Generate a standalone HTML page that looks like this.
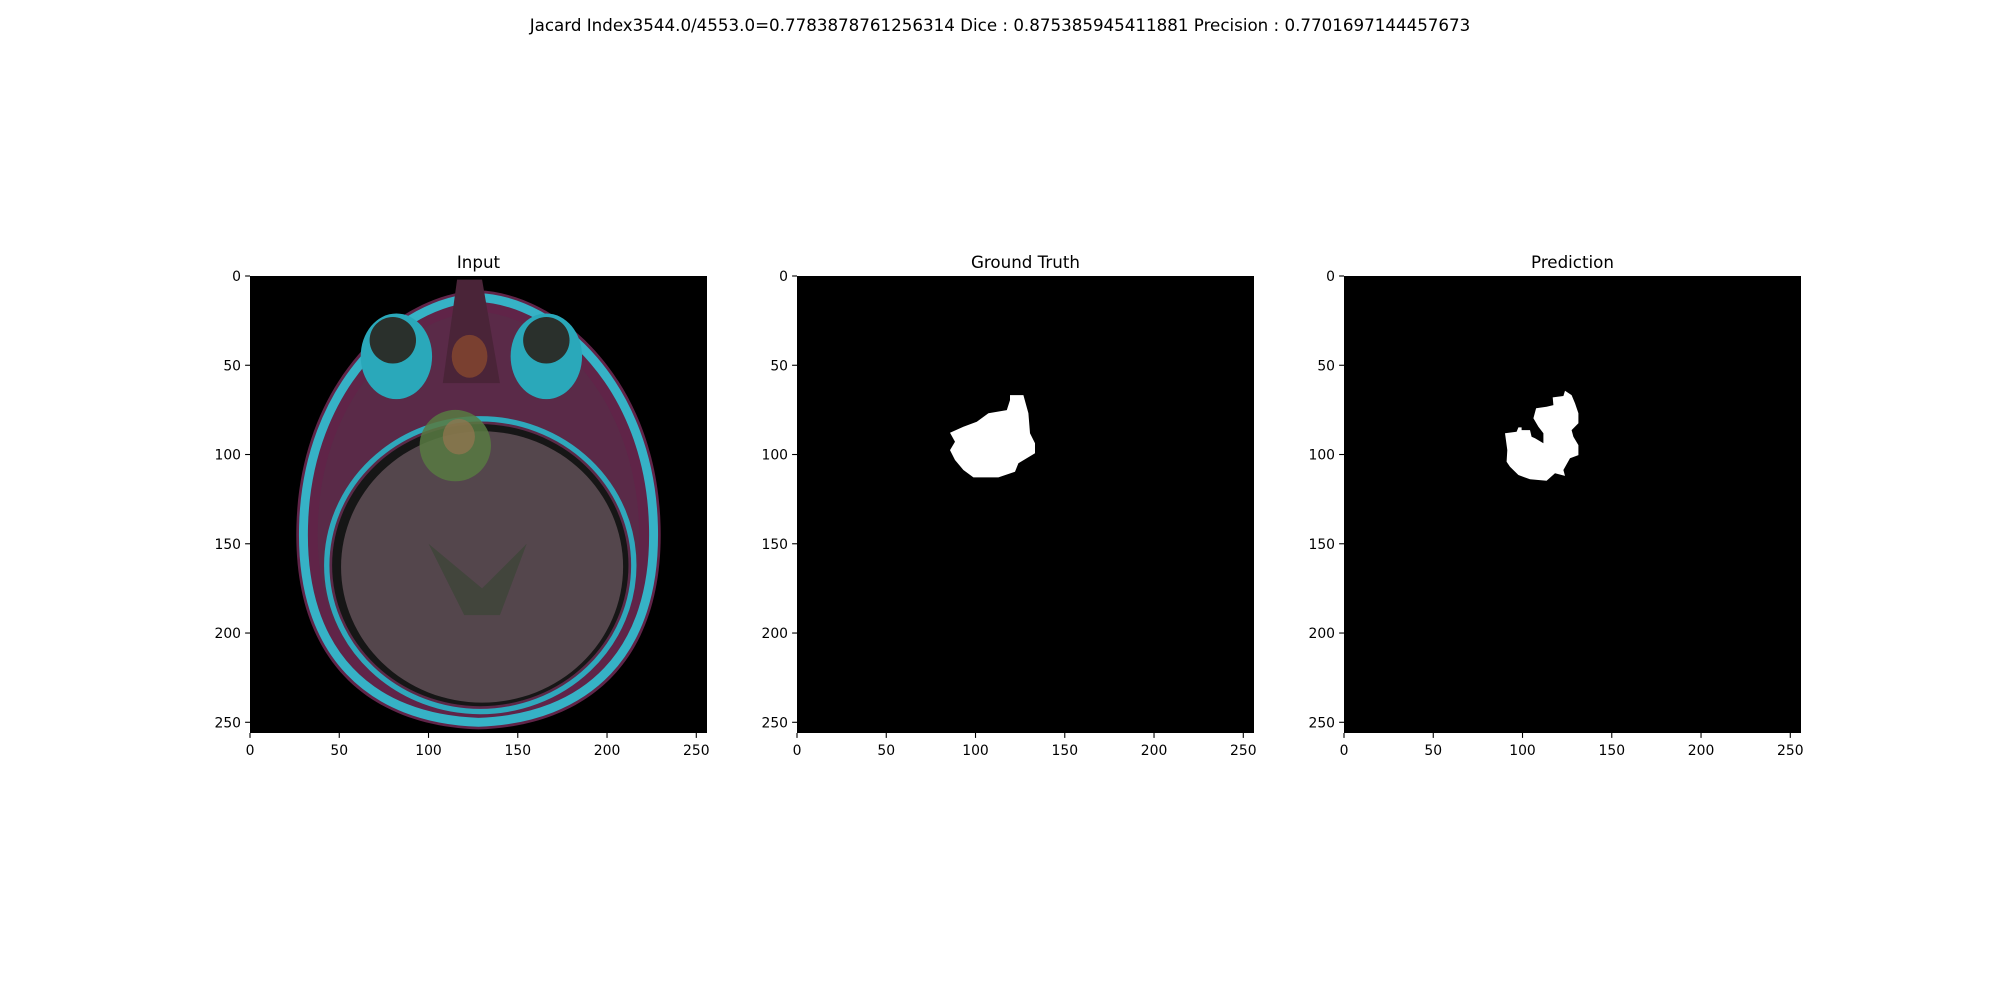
<!DOCTYPE html>
<html><head><meta charset="utf-8"><style>
html,body{margin:0;padding:0;background:#fff;}
svg{display:block;font-family:"DejaVu Sans","Liberation Sans",sans-serif;}
</style></head><body>
<svg id="fig" width="2000" height="1000" viewBox="0 0 2000 1000" xmlns="http://www.w3.org/2000/svg">
<rect width="2000" height="1000" fill="#fff"/>
<text x="1000" y="31" text-anchor="middle" font-size="16.7" fill="#000">Jacard Index3544.0/4553.0=0.7783878761256314 Dice : 0.875385945411881 Precision : 0.7701697144457673</text>
</svg>
<script>
const panelTitles = ["Input", "Ground Truth", "Prediction"];
const tickValues = [0, 50, 100, 150, 200, 250];
const imageSize = 256;
// ground truth mask outline (data coords x,y)
const gtX = [119.3,126.8,129.6,130.5,133.3,133.3,124,122.1,112.8,98.8,93.2,88.5,85.7,88.5,85.7,93.2,100.7,107.2,117.5,119.3];
const gtY = [66.7,66.7,76.9,88.1,93.7,99.3,104.9,109.6,112.8,112.8,108.7,103.1,97.5,92.8,87.8,84.4,81.6,76.9,75.1,69.5];
// prediction mask outline
const prX = [123.8,127.5,129.4,131.3,131.3,127.5,128.5,131.3,131.3,126.6,122.9,123.8,118.2,113.5,104.2,97.7,93,91.1,91.5,90.2,96.7,97.7,99.5,99.5,104.2,105.1,107,111.7,111.7,108.9,106.1,107.6,113.5,117.3,116.9,122.9];
const prY = [64.3,66.7,71.3,76.9,82.5,86.3,90,94.7,100.3,102.1,108.7,112,110.5,114.7,113.9,111.5,106.8,104,97.5,88.1,87.2,84.8,84.8,86.3,86.3,90,90.9,93.7,88.1,84.4,79.7,74.1,73.2,72.3,68,67.2];

const NS = "http://www.w3.org/2000/svg";
const fig = document.getElementById('fig');
const axLefts = [250, 797, 1344];
const axTop = 276, axSize = 457;
function mk(tag, attrs, parent){const e=document.createElementNS(NS,tag);for(const k in attrs)e.setAttribute(k,attrs[k]);(parent||fig).appendChild(e);return e;}
function sx(i,v){return axLefts[i] + v/imageSize*axSize;}
function sy(v){return axTop + v/imageSize*axSize;}

function drawBrain(g){
  const s = axSize/imageSize;
  const inner = mk('g',{transform:`scale(${s})`},g);
  // head outline
  mk('path',{d:'M128 8 C 175 10, 228 60, 230 140 C 232 215, 190 252, 128 254 C 66 252, 24 215, 26 140 C 28 60, 81 10, 128 8 Z',fill:'#6a2850',opacity:0.9},inner);
  mk('path',{d:'M128 12 C 172 14, 224 62, 226 140 C 228 212, 188 248, 128 250 C 68 248, 28 212, 30 140 C 32 62, 84 14, 128 12 Z',fill:'none',stroke:'#36b2c6',"stroke-width":5},inner);
  mk('path',{d:'M128 20 C 168 22, 215 66, 218 140 C 220 206, 184 240, 128 242 C 72 240, 36 206, 38 140 C 40 66, 88 22, 128 20 Z',fill:'#5a2a48'},inner);
  mk('ellipse',{cx:129,cy:162,rx:86,ry:82,fill:'none',stroke:'#2fa8bc',"stroke-width":3},inner);
  mk('ellipse',{cx:129,cy:162,rx:83,ry:79,fill:'#161616'},inner);
  mk('ellipse',{cx:130,cy:163,rx:79,ry:76,fill:'#54464c'},inner);
  // eyes region
  mk('ellipse',{cx:82,cy:45,rx:20,ry:24,fill:'#2aa8ba'},inner);
  mk('ellipse',{cx:166,cy:45,rx:20,ry:24,fill:'#2aa8ba'},inner);
  mk('ellipse',{cx:80,cy:36,rx:13,ry:13,fill:'#2a302c'},inner);
  mk('ellipse',{cx:166,cy:36,rx:13,ry:13,fill:'#2a302c'},inner);
  mk('path',{d:'M108 60 L116 2 L130 2 L140 60 Z',fill:'#4a2438'},inner);
  mk('ellipse',{cx:123,cy:45,rx:10,ry:12,fill:'#7a4030'},inner);
  // tumor
  mk('ellipse',{cx:115,cy:95,rx:20,ry:20,fill:'#587a42',opacity:0.85},inner);
  mk('ellipse',{cx:117,cy:90,rx:9,ry:10,fill:'#957550',opacity:0.7},inner);
  // ventricles
  mk('path',{d:'M100 150 L130 175 L155 150 L140 190 L120 190 Z',fill:'#3a4436',opacity:0.7},inner);
}

for(let i=0;i<3;i++){
  const x0 = axLefts[i];
  const g = mk('g',{transform:`translate(${x0},${axTop})`});
  
  
  const bg = mk('rect',{x:0,y:0,width:axSize,height:axSize,fill:'#000'},g);
  
  
  if(i===0) drawBrain(g);
  const xs = i===1?gtX:prX, ys = i===1?gtY:prY;
  if(i>0){
    const pts = xs.map((v,k)=>`${(sx(i,v)-x0).toFixed(1)},${(sy(ys[k])-axTop).toFixed(1)}`).join(' ');
    const poly = mk('polygon',{points:pts,fill:'#fff'},g);
    
    
  }
  const t = mk('text',{x:x0+axSize/2,y:axTop-8,"text-anchor":"middle","font-size":16.7,fill:'#000'});
  t.textContent = panelTitles[i];
  
  
  for(const v of tickValues){
    const px = sx(i,v), py = sy(v);
    mk('line',{x1:px,y1:axTop+axSize,x2:px,y2:axTop+axSize+4.9,stroke:'#000',"stroke-width":1.1});
    const tx = mk('text',{x:px,y:axTop+axSize+22,"text-anchor":"middle","font-size":13.9,fill:'#000'});
    tx.textContent = v;
    
    
    mk('line',{x1:x0-4.9,y1:py,x2:x0,y2:py,stroke:'#000',"stroke-width":1.1});
    const ty = mk('text',{x:x0-9,y:py+5,"text-anchor":"end","font-size":13.9,fill:'#000'});
    ty.textContent = v;
    
    
  }
}
</script>
</body></html>
